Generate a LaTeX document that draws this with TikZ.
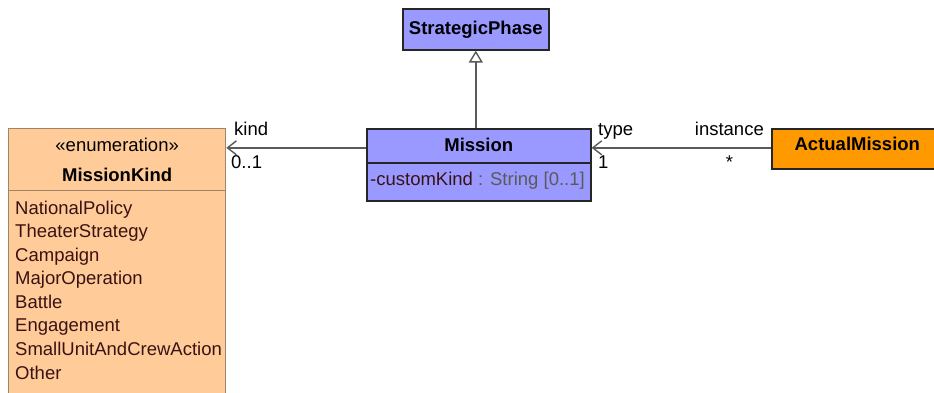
\documentclass[tikz,border=0pt]{standalone}
\usepackage{fontspec}
\setmainfont{Liberation Sans}
\usetikzlibrary{arrows.meta}
\definecolor{classblue}{HTML}{9999FF}
\definecolor{enumfill}{HTML}{FFCC99}
\definecolor{enumdraw}{HTML}{A08468}
\definecolor{actfill}{HTML}{FF9900}
\definecolor{littext}{HTML}{3A1212}
\definecolor{typetext}{HTML}{5A5A5A}
\definecolor{linegray}{HTML}{5A5A5A}
\tikzset{
  umlbox/.style={draw=black!85, line width=1.6pt, inner sep=0pt, anchor=north west,
    font=\bfseries, text height=13.3pt, text depth=3.9pt},
  enumbox/.style={draw=enumdraw, fill=enumfill, line width=1.3pt, inner sep=0pt, anchor=north west},
  lbl/.style={inner sep=0pt, anchor=base west},
  assoc/.style={-{Straight Barb[length=9pt,width=14pt]}, draw=linegray, line width=1.4pt},
  genline/.style={-{Triangle[open,length=12pt,width=14pt]}, draw=linegray, line width=1.4pt}
}

\begin{document}
\fontsize{18.5}{30}\selectfont
\begin{tikzpicture}[x=1pt, y=-1pt]
  \useasboundingbox (0,0) rectangle (934,392);
  % classes
  \node[umlbox, fill=classblue, minimum width=146pt, minimum height=41pt] (phase) at (402,8) {StrategicPhase};
  \node[umlbox, fill=classblue, minimum width=224pt, minimum height=34pt, text depth=1.3pt] (mission) at (366,128) {Mission};
  \node[umlbox, fill=classblue, minimum width=224pt, minimum height=38pt] (missionattr) at (366,162) {};
  \node[lbl] (attr) at (370,185) {\textcolor{littext}{-customKind} \textcolor{typetext}{: String [0..1]}};
  \node[umlbox, fill=actfill, minimum width=171pt, minimum height=40pt, text depth=9.3pt] (actual) at (771,128) {ActualMission};
  % enumeration
  \node[enumbox, minimum width=217pt, minimum height=62pt, align=center] (kindhead) at (8,128)
    {«enumeration»\\\textbf{MissionKind}};
  \node[enumbox, minimum width=217pt, minimum height=215pt] (kindbody) at (8,190) {};
  \foreach \lit [count=\i] in {NationalPolicy, TheaterStrategy, Campaign, MajorOperation,
      Battle, Engagement, SmallUnitAndCrewAction, Other}
    \node[lbl, text=littext] (lit\i) at (15,190.43+23.57*\i) {\lit};
  % relations
  \draw[genline] (phase.south |- mission.north) -- (phase.south);
  \draw[assoc] ([yshift=-2pt]mission.west) -- ([yshift=-2pt]mission.west -| kindhead.east);
  \draw[assoc] ([yshift=-2pt]mission.west -| actual.west) -- ([yshift=-2pt]mission.east);
  % role names and multiplicities
  \node[lbl] (kindrole) at (234,135) {kind};
  \node[lbl] (kindmult) at (231,168) {0..1};
  \node[lbl] (typerole) at (598,135) {type};
  \node[lbl] (typemult) at (598,168) {1};
  \node[lbl, anchor=base east] (instrole) at (764,135) {instance};
  \node[lbl, anchor=base] (instmult) at (729.5,168) {*};
\end{tikzpicture}
\end{document}
